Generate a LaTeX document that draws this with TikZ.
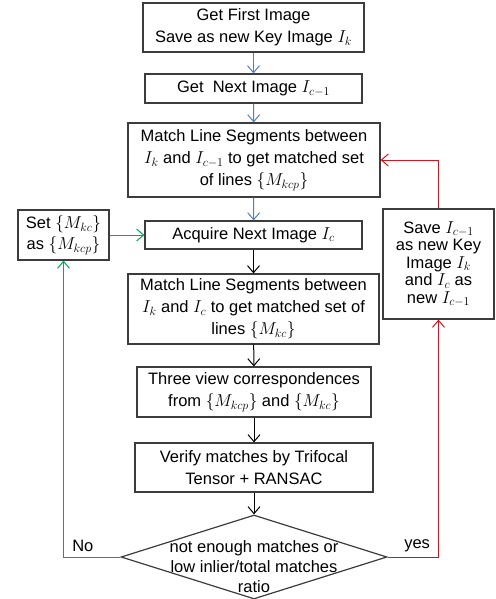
\documentclass[tikz,border=0pt]{standalone}
\usepackage{fontspec}
\setmainfont{Liberation Sans}
\usepackage{tikz}
\usetikzlibrary{shapes.geometric,arrows.meta,positioning}
\definecolor{edge}{RGB}{60,60,60}
\definecolor{flowblue}{RGB}{79,129,189}
\definecolor{loopgreen}{RGB}{0,170,80}
\definecolor{loopred}{RGB}{214,20,30}

\begin{document}
\begin{tikzpicture}[x=1pt,y=-1pt,font=\fontsize{16.5}{22}\selectfont,
  box/.style={draw=edge,line width=1.2pt,fill=white,align=center,inner sep=0pt},
  arr/.style={-{Straight Barb[length=7pt,width=12pt]},line width=1pt}]
\useasboundingbox (0,0) rectangle (495,599);

% main column
\node[box,minimum width=221pt,minimum height=49pt] (first) at (253.5,27.5)
  {Get First Image\\Save as new Key Image $I_k$};
\node[box,minimum width=217pt,minimum height=29pt] (next) at (253.5,88.5)
  {Get\ \ Next Image $I_{c-1}$};
\node[box,minimum width=252pt,minimum height=74pt] (matchp) at (254,160)
  {Match Line Segments between\\$I_k$ and $I_{c-1}$ to get matched set\\of lines $\{M_{kcp}\}$};
\node[box,minimum width=217pt,minimum height=28pt] (acquire) at (253.5,235)
  {Acquire Next Image $I_c$};
\node[box,minimum width=251pt,minimum height=70pt] (matchc) at (253.5,309)
  {Match Line Segments between\\$I_k$ and $I_c$ to get matched set of\\lines $\{M_{kc}\}$};
\node[box,minimum width=234pt,minimum height=50pt] (three) at (254,392)
  {Three view correspondences\\from $\{M_{kcp}\}$ and $\{M_{kc}\}$};
\node[box,minimum width=238pt,minimum height=49pt] (verify) at (254,467.5)
  {Verify matches by Trifocal\\Tensor + RANSAC};
\node[draw=edge,line width=1.2pt,diamond,minimum width=266pt,minimum height=84pt,inner sep=0pt] (dec) at (254,557) {};
\node[align=center,font=\fontsize{16.5}{20}\selectfont] (dectxt) at (254,567)
  {not enough matches or\\low inlier/total matches\\ratio};

% side boxes
\node[box,minimum width=91pt,minimum height=50pt,font=\fontsize{16.5}{21}\selectfont] (set) at (63.5,235)
  {Set $\{M_{kc}\}$\\as $\{M_{kcp}\}$};
\node[box,minimum width=111pt,minimum height=110pt,font=\fontsize{16.5}{17.5}\selectfont] (save) at (438.5,264)
  {Save $I_{c-1}$\\as new Key\\Image $I_k$\\and $I_c$ as\\new $I_{c-1}$};

% connectors
\draw[arr,flowblue] (first) -- (next);
\draw[arr,flowblue] (next) -- (matchp);
\draw[arr,flowblue] (matchp) -- (acquire);
\draw[arr] (acquire) -- (matchc);
\draw[arr] (matchc) -- (three);
\draw[arr] (three) -- (verify);
\draw[arr] (verify) -- (dec.north);
\draw[arr,loopgreen] (dec.west) -| node[pos=0.33,above,black,inner sep=5pt] (no) {No} (set.south);
\draw[arr,loopgreen] (set.east) -- (acquire.west);
\draw[arr,loopred] (dec.east) -| node[pos=0.29,above,black,inner sep=5pt] (yes) {yes} (save.south);
\draw[arr,loopred] (save.north) |- (matchp.east);
\end{tikzpicture}
\end{document}
